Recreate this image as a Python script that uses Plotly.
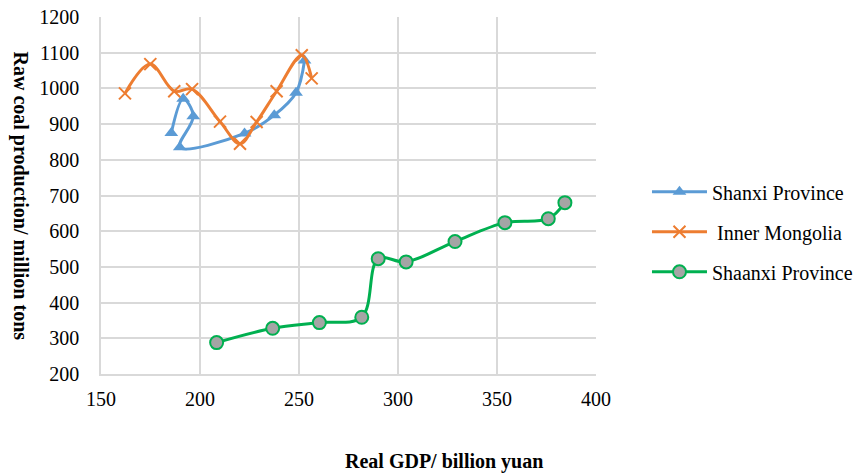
import plotly.graph_objects as go

# Data
shanxi_gdp = [185.5, 191.5, 196.6, 189.8, 222.5, 237.5, 248.5, 252.8]
shanxi_coal = [875, 971, 922, 835, 874, 925, 988, 1078]

inner_gdp = [162.1, 174.9, 187.0, 196.0, 210.1, 220.2, 228.6, 238.7, 251.4, 256.4]
inner_coal = [986, 1068, 992, 998, 907, 845, 906, 992, 1093, 1028]

shaanxi_gdp = [208.4, 236.7, 260.3, 281.7, 290.0, 304.1, 328.8, 354.0, 375.9, 384.3]
shaanxi_coal = [288, 328, 344, 359, 523, 514, 571, 624, 635, 680]

x_ticks = [150, 200, 250, 300, 350, 400]
y_ticks = [200, 300, 400, 500, 600, 700, 800, 900, 1000, 1100, 1200]

FONT = "Liberation Serif, Times New Roman, serif"

fig = go.Figure()
fig.add_trace(go.Scatter(
    x=shanxi_gdp, y=shanxi_coal, name="Shanxi Province", mode="lines+markers",
    line=dict(color="#5B9BD5", width=3, shape="spline", smoothing=1.0),
    marker=dict(symbol="triangle-up", size=12, color="#5B9BD5"),
    legendgroup="a"))
fig.add_trace(go.Scatter(
    x=inner_gdp, y=inner_coal, name=" Inner Mongolia", mode="lines+markers",
    line=dict(color="#ED7D31", width=3, shape="spline", smoothing=1.0),
    marker=dict(symbol="x-thin", size=12, color="#ED7D31",
                line=dict(color="#ED7D31", width=2)),
    legendgroup="b"))
fig.add_trace(go.Scatter(
    x=shaanxi_gdp, y=shaanxi_coal, name="Shaanxi Province", mode="lines+markers",
    line=dict(color="#00B050", width=3, shape="spline", smoothing=1.0),
    marker=dict(symbol="circle", size=13, color="#A5A5A5",
                line=dict(color="#00B050", width=2)),
    legendgroup="c"))

fig.update_layout(
    width=864, height=476,
    margin=dict(l=101, r=268, t=17, b=102, autoexpand=False),
    paper_bgcolor="white", plot_bgcolor="white",
    font=dict(family=FONT, size=20, color="black"),
    showlegend=True,
    legend=dict(x=1.103, y=0.565, xanchor="left", yanchor="top",
                traceorder="grouped", tracegroupgap=11, itemwidth=55,
                font=dict(family=FONT, size=20, color="black"),
                bgcolor="rgba(0,0,0,0)"),
    xaxis=dict(range=[150, 400], tickvals=x_ticks, showgrid=True, automargin=False,
               gridcolor="#D9D9D9", gridwidth=1.5, zeroline=False,
               showline=True, linecolor="#D9D9D9", linewidth=1.5,
               ticks="outside", ticklen=6, tickcolor="rgba(0,0,0,0)",
               tickfont=dict(family=FONT, size=20, color="black")),
    yaxis=dict(range=[200, 1200], tickvals=y_ticks, showgrid=True, automargin=False,
               gridcolor="#D9D9D9", gridwidth=1.5, zeroline=False,
               showline=True, linecolor="#D9D9D9", linewidth=1.5,
               ticks="outside", ticklen=16, tickcolor="rgba(0,0,0,0)",
               tickfont=dict(family=FONT, size=20, color="black")),
    annotations=[
        dict(text="<b>Real GDP/ billion yuan</b>", xref="paper", yref="paper",
             x=0.693, y=-0.246, xanchor="center", yanchor="middle",
             showarrow=False, font=dict(family=FONT, size=20, color="black")),
        dict(text="<b>Raw coal production/ million tons</b>", xref="paper", yref="paper",
             x=(20 - 101) / 495, y=0.5, xanchor="center", yanchor="middle",
             textangle=90, showarrow=False,
             font=dict(family=FONT, size=20, color="black")),
    ],
)

fig.write_html("out.html", config={"displayModeBar": False},
               post_script="document.body.style.margin='0';document.body.style.overflow='hidden';")
